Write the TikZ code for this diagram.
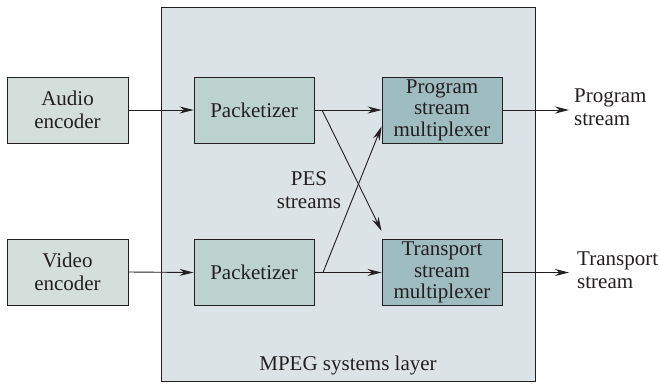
\documentclass[tikz,border=0pt]{standalone}
\usepackage{fontspec}
\setmainfont{Liberation Serif}
\usetikzlibrary{arrows.meta}
\definecolor{encfill}{HTML}{D4DFDC}
\definecolor{pktfill}{HTML}{BBD2CE}
\definecolor{muxfill}{HTML}{9FBCC0}
\definecolor{sysfill}{HTML}{DCE3E6}
\definecolor{ink}{HTML}{231F20}
\tikzset{
  blk/.style={draw=ink, line width=0.9pt, minimum width=120pt, minimum height=66pt, inner sep=0pt, align=center, font=\fontsize{21}{21.5}\selectfont, text=ink},
  enc/.style={blk, minimum width=121pt, fill=encfill},
  pkt/.style={blk, fill=pktfill},
  mux/.style={blk, fill=muxfill},
  lbl/.style={font=\fontsize{21}{23}\selectfont, text=ink, inner sep=0pt},
  arr/.style={draw=ink, line width=0.9pt, -{Stealth[length=14pt,width=7pt]}},
}
\begin{document}
\begin{tikzpicture}[x=1pt,y=-1pt]
\useasboundingbox (0,0) rectangle (660,383);
\node[draw=ink, line width=0.9pt, fill=sysfill, minimum width=374pt, minimum height=374pt, inner sep=0pt] (sys) at (348,194.5) {};
\node[enc, font=\fontsize{21}{23}\selectfont] (aenc) at (67.5,110) {Audio\\encoder};
\node[enc, font=\fontsize{21}{23}\selectfont] (venc) at (67.5,272) {Video\\encoder};
\node[pkt] (pa) at (254,110) {Packetizer};
\node[pkt] (pv) at (254,272.5) {Packetizer};
\node[mux] (pm) at (442,110) {Program\\stream\\multiplexer};
\node[mux] (tm) at (442,272.5) {Transport\\stream\\multiplexer};
\node[lbl, align=center] (pes) at (309,190) {PES\\streams};
\node[lbl] (sysl) at (348,365) {MPEG systems layer};
\node[lbl, align=left, anchor=west] (ps) at (574,107) {Program\\stream};
\node[lbl, align=left, anchor=west] (ts) at (577,270) {Transport\\stream};
\coordinate (pao) at (322,110);
\coordinate (pvo) at (323,272.5);
\coordinate (psin) at (569,110);
\coordinate (tsin) at (569,272.5);
\draw[arr] (aenc.east) -- (pa.west);
\draw[arr] (venc.east) -- (pv.west);
\draw[arr] (pa.east) -- (pm.west);
\draw[arr] (pv.east) -- (tm.west);
\draw[arr] (pao) -- ([yshift=8pt]tm.north west);
\draw[arr] (pvo) -- ([yshift=17pt]pm.south west);
\draw[arr] (pm.east) -- (psin);
\draw[arr] (tm.east) -- (tsin);
\end{tikzpicture}
\end{document}
